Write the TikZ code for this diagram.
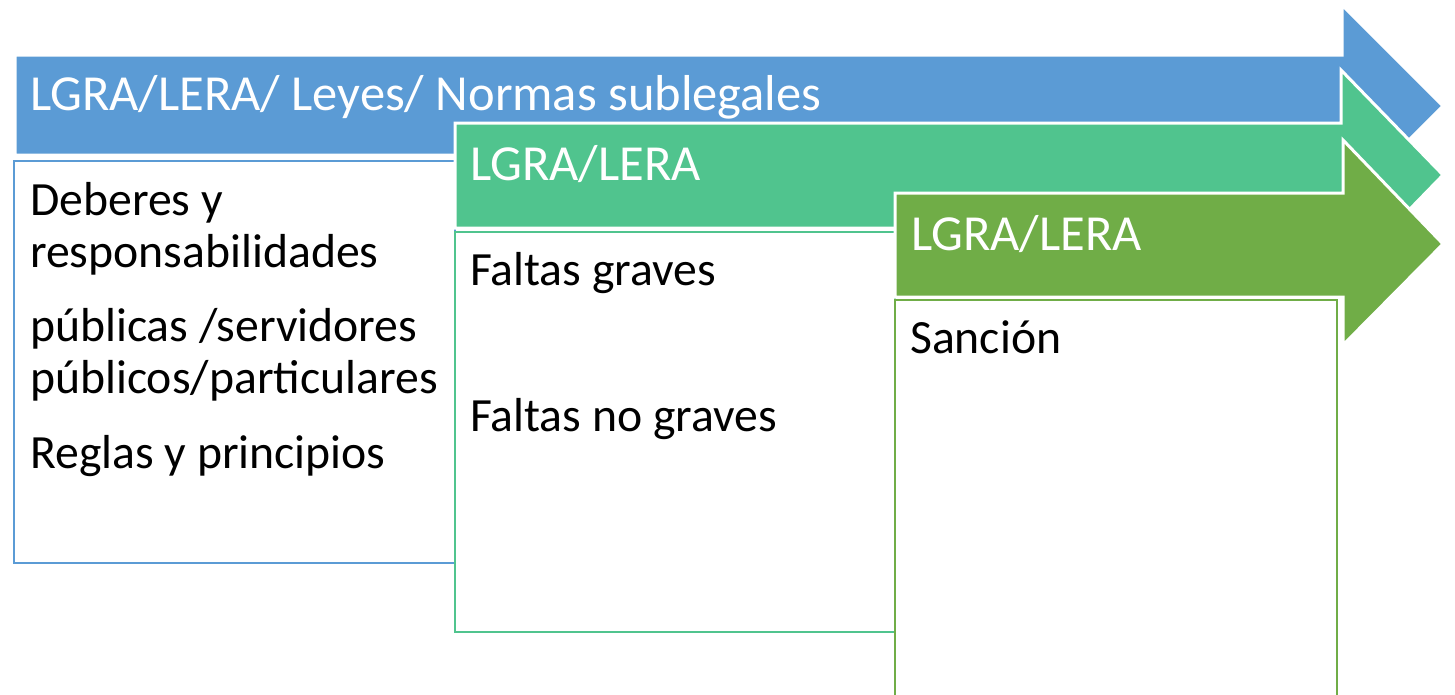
\documentclass[tikz,border=0pt]{standalone}
\usepackage{fontspec}
\setmainfont{Carlito}
\usetikzlibrary{positioning}
\definecolor{azul}{RGB}{91,155,213}
\definecolor{verde}{RGB}{80,196,142}
\definecolor{oliva}{RGB}{112,173,71}

\tikzset{
	flecha/.style={fill=#1, draw=white, line width=3pt, line join=miter},
	caja/.style={draw=#1, line width=2pt, fill=white},
	titulo/.style={text=white, anchor=base west, inner sep=0pt, font=\fontsize{50.5}{60}\selectfont},
	texto/.style={text=black, anchor=base west, align=left, inner sep=0pt, font=\fontsize{47.7}{52}\selectfont},
}

\begin{document}
\begin{tikzpicture}[x=1pt,y=-1pt]
	
	\useasboundingbox (0,0) rectangle (1455,694);
	\clip (0,0) rectangle (1455,694);
	
	% azul
	\draw[flecha=azul] (15,55) -- (1342,55) -- (1342,5) -- (1443,106) -- (1342,207) -- (1342,155) -- (15,155) -- cycle;
	\node[titulo] (tA) at (30,110) {LGRA/LERA/ Leyes/ Normas sublegales};
	\draw[caja=azul] (14,161) rectangle (455,563);
	\node[texto] (deberes) at (30,267) {Deberes y\\responsabilidades};
	\node[texto] (publicas) at (30,393) {públicas /servidores\\públicos/particulares};
	\node[texto] (reglas) at (30,468) {Reglas y principios};
	
	% verde
	\draw[flecha=verde] (455,123) -- (1341,123) -- (1341,70) -- (1443,175) -- (1341,280) -- (1341,228) -- (455,228) -- cycle;
	\node[titulo] (tB) at (470,180) {LGRA/LERA};
	\draw[caja=verde] (455,232) rectangle (895,632);
	\node[texto] (graves) at (470,285) {Faltas graves};
	\node[texto] (nograves) at (470,431) {Faltas no graves};
	
	% oliva
	\draw[flecha=oliva] (895,193) -- (1343,193) -- (1343,140) -- (1443,244) -- (1343,345) -- (1343,297) -- (895,297) -- cycle;
	\node[titulo] (tC) at (911,250) {LGRA/LERA};
	\draw[caja=oliva] (895,300) rectangle (1337,720);
	\node[texto] (sancion) at (910,353) {Sanción};
	
\end{tikzpicture}
\end{document}
